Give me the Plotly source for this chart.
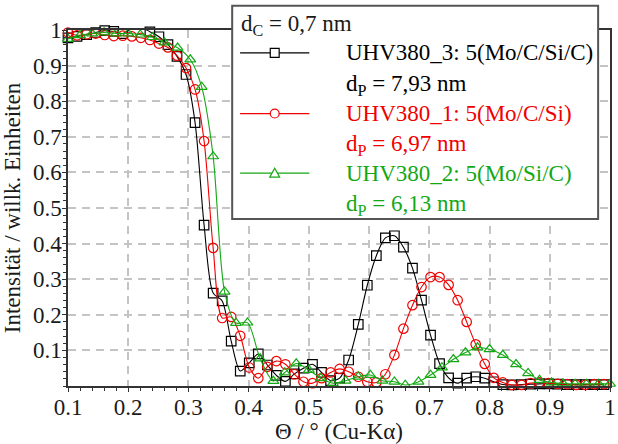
import plotly.graph_objects as go

# ---- data ----
x_black = [0.100, 0.115, 0.131, 0.146, 0.161, 0.176, 0.191, 0.206, 0.221, 0.236,
           0.251, 0.266, 0.281, 0.296, 0.311, 0.326, 0.341, 0.356, 0.371, 0.386,
           0.401, 0.416, 0.431, 0.446, 0.461, 0.476, 0.491, 0.506, 0.521, 0.536,
           0.551, 0.566, 0.582, 0.597, 0.612, 0.627, 0.642, 0.657, 0.672, 0.687,
           0.702, 0.717, 0.732, 0.747, 0.762, 0.777, 0.792, 0.807, 0.822, 0.837,
           0.853, 0.868, 0.883, 0.898, 0.913, 0.929, 0.944, 0.959, 0.974, 0.990]
y_black = [0.978, 0.982, 0.987, 0.993, 0.998, 0.996, 0.990, 1.005, 1.008, 0.995,
           0.981, 0.959, 0.926, 0.875, 0.740, 0.452, 0.261, 0.239, 0.126, 0.042,
           0.065, 0.090, 0.059, 0.030, 0.013, 0.034, 0.050, 0.061, 0.038, 0.015,
           0.022, 0.073, 0.173, 0.283, 0.366, 0.416, 0.422, 0.390, 0.331, 0.241,
           0.143, 0.063, 0.023, 0.008, 0.022, 0.026, 0.022, 0.012, 0.004, 0.003,
           0.004, 0.005, 0.006, 0.006, 0.005, 0.004, 0.004, 0.004, 0.004, 0.004]

x_red = x_black
y_red = [0.993, 0.985, 0.988, 0.990, 0.986, 0.983, 0.984, 0.982, 0.978, 0.972,
         0.962, 0.951, 0.928, 0.893, 0.833, 0.688, 0.388, 0.191, 0.194, 0.141,
         0.052, 0.022, 0.054, 0.070, 0.061, 0.033, 0.012, 0.008, 0.022, 0.038,
         0.048, 0.040, 0.026, 0.012, 0.010, 0.033, 0.087, 0.161, 0.227, 0.278,
         0.306, 0.306, 0.284, 0.241, 0.180, 0.117, 0.062, 0.023, 0.010, 0.003,
         0.003, 0.008, 0.010, 0.008, 0.006, 0.005, 0.003, 0.003, 0.005, 0.005]

x_green = [0.100, 0.120, 0.140, 0.160, 0.180, 0.200, 0.220, 0.240, 0.260, 0.282,
           0.303, 0.322, 0.341, 0.360, 0.379, 0.398, 0.419, 0.441, 0.460, 0.479,
           0.500, 0.520, 0.540, 0.561, 0.582, 0.602, 0.622, 0.642, 0.660, 0.682,
           0.702, 0.721, 0.740, 0.760, 0.780, 0.800, 0.822, 0.844, 0.864, 0.883,
           0.903, 0.922, 0.942, 0.961, 0.981, 1.000]
y_green = [0.975, 0.985, 0.990, 0.993, 0.990, 0.990, 0.987, 0.980, 0.965, 0.950,
           0.917, 0.840, 0.645, 0.265, 0.177, 0.178, 0.077, 0.014, 0.038, 0.063,
           0.045, 0.022, 0.008, 0.015, 0.026, 0.031, 0.015, 0.012, 0.003, 0.012,
           0.031, 0.052, 0.075, 0.094, 0.108, 0.103, 0.087, 0.061, 0.036, 0.017,
           0.010, 0.007, 0.006, 0.006, 0.006, 0.006]

tick_vals = [0.1, 0.2, 0.3, 0.4, 0.5, 0.6, 0.7, 0.8, 0.9, 1.0]
tick_text = ["0.1", "0.2", "0.3", "0.4", "0.5", "0.6", "0.7", "0.8", "0.9", "1"]

legend_title = "d<sub>C</sub> = 0,7 nm"
series_names = ["UHV380_3: 5(Mo/C/Si/C)", "UHV380_1: 5(Mo/C/Si)", "UHV380_2: 5(Mo/Si/C)"]
series_dp = ["d<sub>P</sub> = 7,93 nm", "d<sub>P</sub> = 6,97 nm", "d<sub>P</sub> = 6,13 nm"]

BLACK = "#000000"
RED = "#f00000"
GREEN = "#14a814"
TXT = "#1a1a1a"
FONT = "Liberation Serif, Times New Roman, DejaVu Serif, serif"

series = [
    (x_black, y_black, BLACK, "square-open"),
    (x_red, y_red, RED, "circle-open"),
    (x_green, y_green, GREEN, "triangle-up-open"),
]

fig = go.Figure()
for (xs, ys, col, sym), nm in zip(series, series_names):
    fig.add_trace(go.Scatter(
        x=xs, y=ys, mode="lines+markers", name=nm, showlegend=False,
        line=dict(color=col, width=1.1, shape="spline", smoothing=0.8),
        marker=dict(symbol=sym, size=9.5, color=col, line=dict(width=1.2, color=col)),
        cliponaxis=False,
    ))

axis_common = dict(
    showline=True, linecolor="#333333", linewidth=1.5, mirror=True,
    ticks="outside", ticklen=4, tickcolor="#333333", tickwidth=1,
    showgrid=True, gridcolor="#c4c4c4", gridwidth=1.5, griddash="8px,6px",
    zeroline=False, tickvals=tick_vals, ticktext=tick_text,
    tickfont=dict(family=FONT, size=23, color=TXT),
    ticklabeloverflow="allow",
    minor=dict(ticks="outside", ticklen=3, dtick=0.02, tickcolor="#333333", showgrid=False),
)

fig.update_xaxes(range=[0.1, 1.0], **axis_common, ticklabelstandoff=-4,
                 title=dict(text="Θ / ° (Cu-Kα)", font=dict(family=FONT, size=23, color=TXT), standoff=6))
fig.update_yaxes(range=[0.0, 1.0], **axis_common, ticklabelstandoff=-4,
                 title=dict(text="Intensität / willk. Einheiten", font=dict(family=FONT, size=23, color=TXT), standoff=8))

# ---- hand-built legend box (paper coordinates from pixel layout) ----
PL, PW, PB, PH = 68, 548, 388, 358
def px(x):
    return (x - PL) / PW
def py(y):
    return (PB - y) / PH

shapes = [dict(type="rect", xref="paper", yref="paper",
               x0=px(234), x1=px(604), y0=py(220), y1=py(5.5),
               line=dict(color="#555555", width=2), fillcolor="white", layer="above")]
annotations = [dict(text=legend_title, xref="paper", yref="paper", x=px(241), y=py(25),
                    xanchor="left", yanchor="middle", showarrow=False,
                    font=dict(family=FONT, size=23, color=TXT))]
row_y = [53, 114, 174]
for i, ((_, _, col, sym), nm, dp) in enumerate(zip(series, series_names, series_dp)):
    yy = row_y[i]
    shapes.append(dict(type="line", xref="paper", yref="paper",
                       x0=px(242), x1=px(312), y0=py(yy), y1=py(yy),
                       line=dict(color=col, width=1.2), layer="above"))
    if sym.startswith("square"):
        shapes.append(dict(type="rect", xref="paper", yref="paper",
                           x0=px(272.5), x1=px(281.5), y0=py(yy + 4.5), y1=py(yy - 4.5),
                           line=dict(color=col, width=1.2), fillcolor="white", layer="above"))
    elif sym.startswith("circle"):
        shapes.append(dict(type="circle", xref="paper", yref="paper",
                           x0=px(272.5), x1=px(281.5), y0=py(yy + 4.5), y1=py(yy - 4.5),
                           line=dict(color=col, width=1.2), fillcolor="white", layer="above"))
    else:
        shapes.append(dict(type="path", xref="paper", yref="paper",
                           path=f"M {px(272)},{py(yy + 4)} L {px(282)},{py(yy + 4)} L {px(277)},{py(yy - 5)} Z",
                           line=dict(color=col, width=1.2), fillcolor="white", layer="above"))
    annotations.append(dict(text=nm, xref="paper", yref="paper", x=px(347), y=py(yy),
                            xanchor="left", yanchor="middle", showarrow=False,
                            font=dict(family=FONT, size=23, color=col)))
    annotations.append(dict(text=dp, xref="paper", yref="paper", x=px(347), y=py(yy + 32),
                            xanchor="left", yanchor="middle", showarrow=False,
                            font=dict(family=FONT, size=23, color=col)))

fig.update_layout(
    width=618, height=444,
    margin=dict(l=68, r=2, t=30, b=56),
    paper_bgcolor="white", plot_bgcolor="white",
    font=dict(family=FONT, size=23, color=TXT),
    showlegend=False,
    shapes=shapes, annotations=annotations,
)

fig.write_html("out.html")
